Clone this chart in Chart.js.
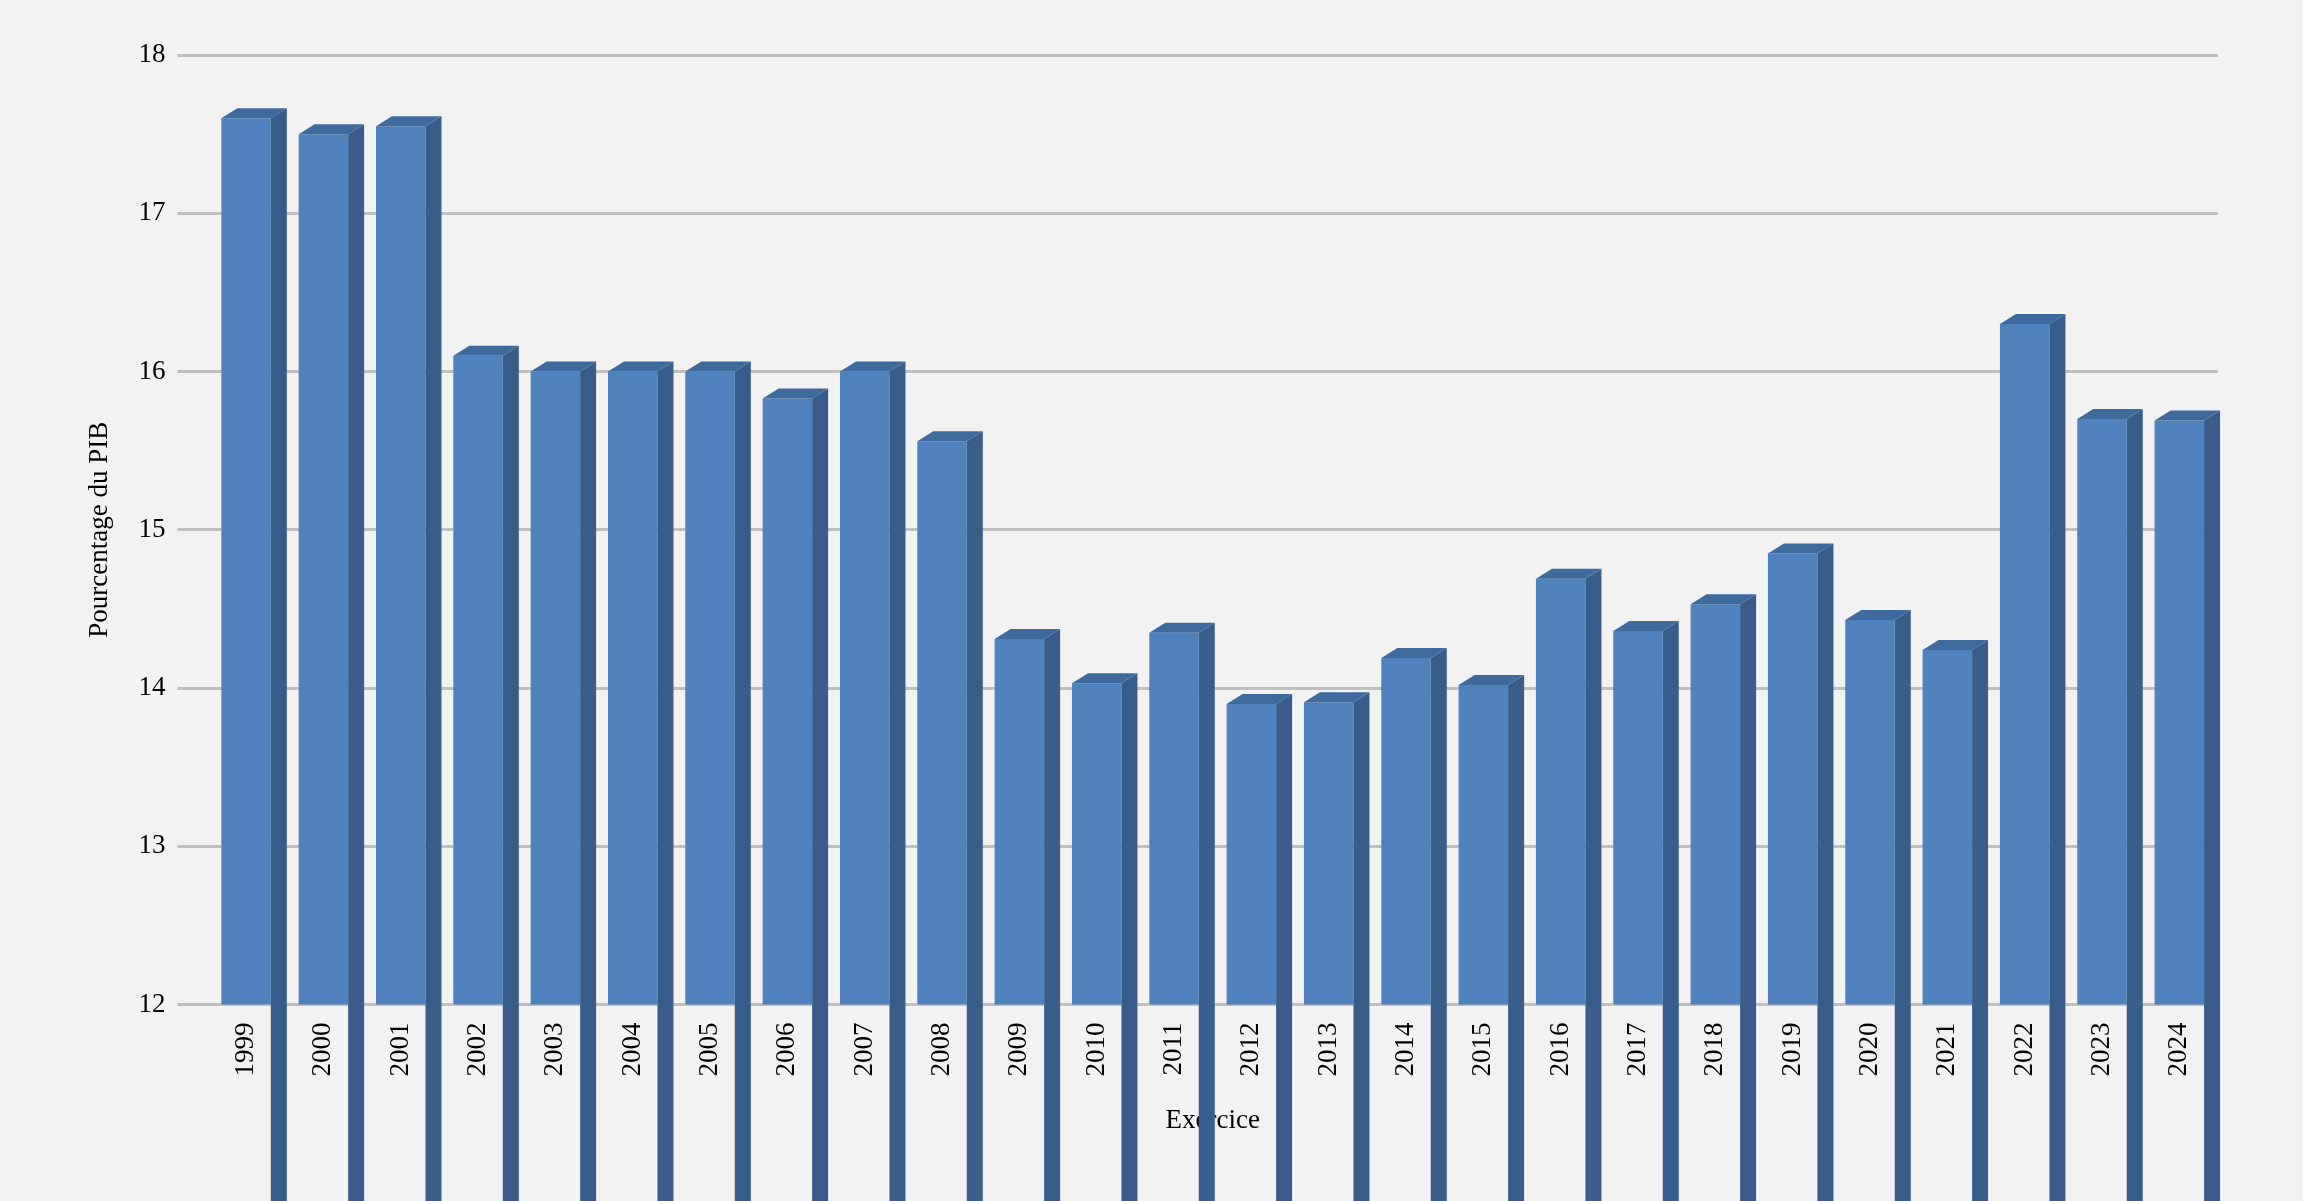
<!DOCTYPE html>
<html><head><meta charset="utf-8">
<script src="https://cdn.jsdelivr.net/npm/chart.js@4"></script>
<style>html,body{margin:0;padding:0;background:#f2f2f2}#w{width:2303px;height:1201px}</style>
</head><body><div id="w"><canvas id="c"></canvas></div>
<script>
const years = ['1999','2000','2001','2002','2003','2004','2005','2006','2007','2008','2009','2010','2011','2012','2013','2014','2015','2016','2017','2018','2019','2020','2021','2022','2023','2024'];
const values = [17.6,17.5,17.55,16.1,16.0,16.0,16.0,15.83,16.0,15.56,14.31,14.03,14.35,13.9,13.91,14.19,14.02,14.69,14.36,14.53,14.85,14.43,14.24,16.3,15.7,15.69];
const yTicks = [12,13,14,15,16,17,18];
const font = {family:'"Liberation Serif", "Times New Roman", serif', size:27};
const DX=16, DY=10;
const bar3d = {
  id:'bar3d',
  beforeDraw(chart){const c=chart.ctx;c.save();c.fillStyle='#f2f2f2';c.fillRect(0,0,chart.width,chart.height);c.restore();},
  afterDatasetsDraw(chart){
    const c=chart.ctx, meta=chart.getDatasetMeta(0);
    c.save();
    meta.data.forEach(b=>{
      const l=b.x-b.width/2, r=b.x+b.width/2, t=b.y, bot=b.base;
      c.fillStyle='#385d8a';
      c.beginPath();c.moveTo(r,t);c.lineTo(r+DX,t-DY);c.lineTo(r+DX,bot-DY);c.lineTo(r,bot);c.closePath();c.fill();
      c.fillStyle='#3e6a9e';
      c.beginPath();c.moveTo(l,t);c.lineTo(l+DX,t-DY);c.lineTo(r+DX,t-DY);c.lineTo(r,t);c.closePath();c.fill();
    });
    c.restore();
  }
};
new Chart(document.getElementById('c'),{
  type:'bar',
  data:{labels:years,datasets:[{data:values,backgroundColor:'#4f81bd',categoryPercentage:1,barPercentage:0.64}]},
  options:{responsive:true,maintainAspectRatio:false,animation:false,
    layout:{padding:{left:80,right:85,top:55,bottom:60}},
    plugins:{legend:{display:false},tooltip:{enabled:false}},
    scales:{
      x:{grid:{display:false},border:{display:false},
        ticks:{font,color:'#000',maxRotation:90,minRotation:90,padding:10},
        title:{display:true,text:'Exercice',font,color:'#000',padding:{top:18}}},
      y:{min:12,max:18,afterBuildTicks:a=>{a.ticks=yTicks.map(v=>({value:v}));},
        grid:{color:'#bfbfbf',lineWidth:3,drawTicks:true,tickLength:30},border:{display:false},
        ticks:{font,color:'#000',padding:12},
        title:{display:true,text:'Pourcentage du PIB',font,color:'#000',padding:{bottom:10}}}
    }},
  plugins:[bar3d]
});
</script></body></html>
